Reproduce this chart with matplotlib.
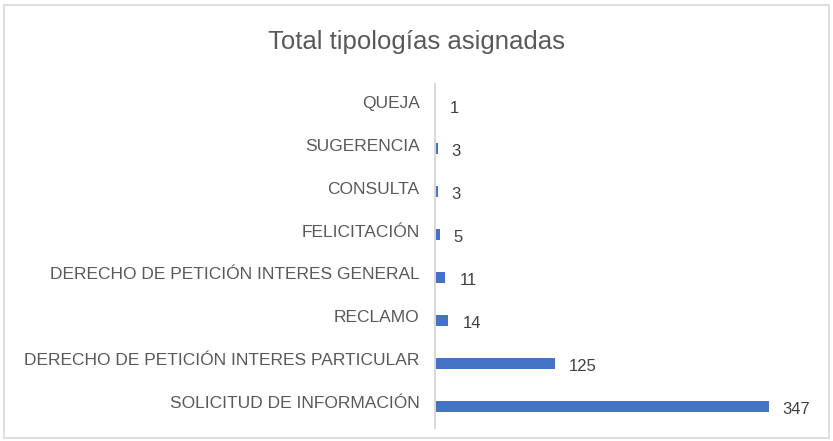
import matplotlib.pyplot as plt
import matplotlib.transforms as mtransforms
from matplotlib.patches import Rectangle

# Data (top to bottom as shown in the chart)
categories = [
    "QUEJA",
    "SUGERENCIA",
    "CONSULTA",
    "FELICITACIÓN",
    "DERECHO DE PETICIÓN INTERES GENERAL",
    "RECLAMO",
    "DERECHO DE PETICIÓN INTERES PARTICULAR",
    "SOLICITUD DE INFORMACIÓN",
]
values = [1, 3, 3, 5, 11, 14, 125, 347]

plt.rcParams['font.family'] = ['Liberation Sans', 'DejaVu Sans']

fig = plt.figure(figsize=(8.33, 4.41), dpi=100)
ax = fig.add_axes([0.522, 0.0295, 0.462, 0.78])

# light border around the chart area
fig.patches.append(Rectangle((0.005, 0.006), 0.99, 0.982, transform=fig.transFigure,
                             fill=False, edgecolor="#d9d9d9", linewidth=1.2))

ypos = list(range(len(categories)))
ax.barh(ypos, values, height=0.24, color="#4472C4")
ax.set_ylim(len(categories) - 0.5, -0.5)
ax.set_xlim(0, 400)

ax.set_yticks(ypos)
ax.set_yticklabels(categories, fontsize=12.5, color="#595959")
ax.tick_params(axis="y", length=0, pad=11)
ax.set_xticks([])

# nudge category labels slightly upward, like the original
shift = mtransforms.ScaledTranslation(0, 4 / 100, fig.dpi_scale_trans)
for lbl in ax.get_yticklabels():
    lbl.set_transform(lbl.get_transform() + shift)

for s in ["top", "right", "bottom"]:
    ax.spines[s].set_visible(False)
ax.spines["left"].set_color("#d9d9d9")
ax.spines["left"].set_linewidth(1.5)

for y, v in zip(ypos, values):
    ax.annotate(str(v), xy=(v, y), xytext=(14, -3), textcoords="offset pixels",
                va="center", ha="left", fontsize=12, color="#404040")

fig.text(0.5, 0.905, "Total tipologías asignadas", ha="center", va="center",
         fontsize=18.5, color="#595959")

fig.savefig("out.png", dpi=100)
